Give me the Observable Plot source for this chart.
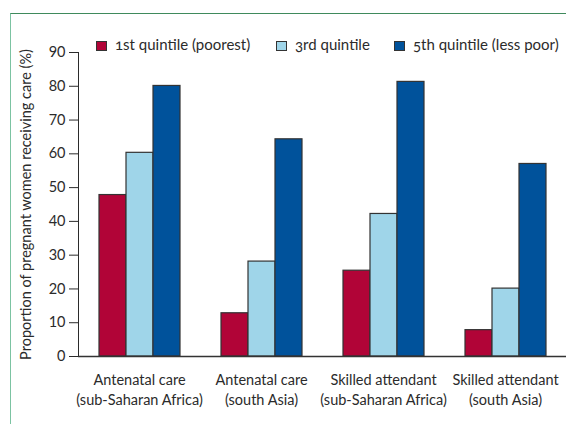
<!DOCTYPE html>
<html>
<head>
<meta charset="utf-8">
<script src="https://cdn.jsdelivr.net/npm/d3@7"></script>
<script src="https://cdn.jsdelivr.net/npm/@observablehq/plot@0.6"></script>
<style>
  body { margin: 0; background: #fff; }
  #wrap { position: relative; width: 566px; height: 424px; overflow: hidden; font-family: Lato, "Noto Sans", sans-serif; color: #2b2b2b; }
  #border { position: absolute; left: 10px; top: 13px; width: 600px; height: 500px; border-top: 1px solid #3f8a5c; border-left: 1.5px solid #7cc3a2; box-sizing: border-box; }
  #chart { position: absolute; left: 0; top: 0; }
  .item { position: absolute; top: 35px; font-size: 15px; line-height: 18px; white-space: nowrap; font-variant-numeric: oldstyle-nums; }
  .sw { display: inline-block; width: 11px; height: 10px; border: 1px solid #333; box-sizing: border-box; vertical-align: -1px; margin-right: 8px; }
</style>
</head>
<body>
<div id="wrap">
  <div id="border"></div>
  <div id="chart"></div>
  <div id="legend"></div>
</div>
<script>
const groups = [
  "Antenatal care\n(sub-Saharan Africa)",
  "Antenatal care\n(south Asia)",
  "Skilled attendant\n(sub-Saharan Africa)",
  "Skilled attendant\n(south Asia)"
];
const quintiles = ["1st quintile (poorest)", "3rd quintile", "5th quintile (less poor)"];
const q1 = [47.8, 12.8, 25.4, 7.8];
const q3 = [60.3, 28.1, 42.2, 20.1];
const q5 = [80.1, 64.3, 81.3, 57.0];
const colors = ["#b10437", "#9fd5e9", "#00529b"];
const yTicks = [0, 10, 20, 30, 40, 50, 60, 70, 80, 90];
const yLabel = "Proportion of pregnant women receiving care (%)";

const series = [q1, q3, q5];
const data = groups.flatMap((g, i) => quintiles.map((q, j) => ({group: g, quintile: q, value: series[j][i]})));

const chart = Plot.plot({
  width: 566,
  height: 424,
  marginLeft: 78,
  marginRight: 0,
  marginTop: 52,
  marginBottom: 68,
  style: {fontFamily: "Lato, 'Noto Sans', sans-serif", fontSize: "14.5px", color: "#2b2b2b", background: "transparent", overflow: "visible"},
  fx: {domain: groups, padding: 0},
  x: {domain: quintiles, paddingInner: 0, paddingOuter: 0.75, axis: null},
  y: {domain: [0, 90], ticks: yTicks, tickSize: 9, tickPadding: 4, line: true, label: yLabel, labelAnchor: "center", labelOffset: 58, labelArrow: "none"},
  color: {domain: quintiles, range: colors},
  marks: [
    Plot.barY(data, {fx: "group", x: "quintile", y: "value", fill: "quintile", stroke: "#333", strokeWidth: 1.2, insetLeft: 0, insetRight: 0}),
    Plot.ruleY([0], {stroke: "#333", strokeWidth: 1.6}),
    Plot.axisFx({anchor: "bottom", tickSize: 0, tickPadding: 14, label: null, lineHeight: 1.38, fontSize: 14.5})
  ]
});
document.getElementById("chart").appendChild(chart);

const lefts = [96, 276, 394];
const legend = document.getElementById("legend");
quintiles.forEach((q, j) => {
  const d = document.createElement("div");
  d.className = "item";
  d.style.left = lefts[j] + "px";
  const s = document.createElement("span");
  s.className = "sw";
  s.style.background = colors[j];
  d.appendChild(s);
  d.appendChild(document.createTextNode(q));
  legend.appendChild(d);
});
</script>
</body>
</html>
